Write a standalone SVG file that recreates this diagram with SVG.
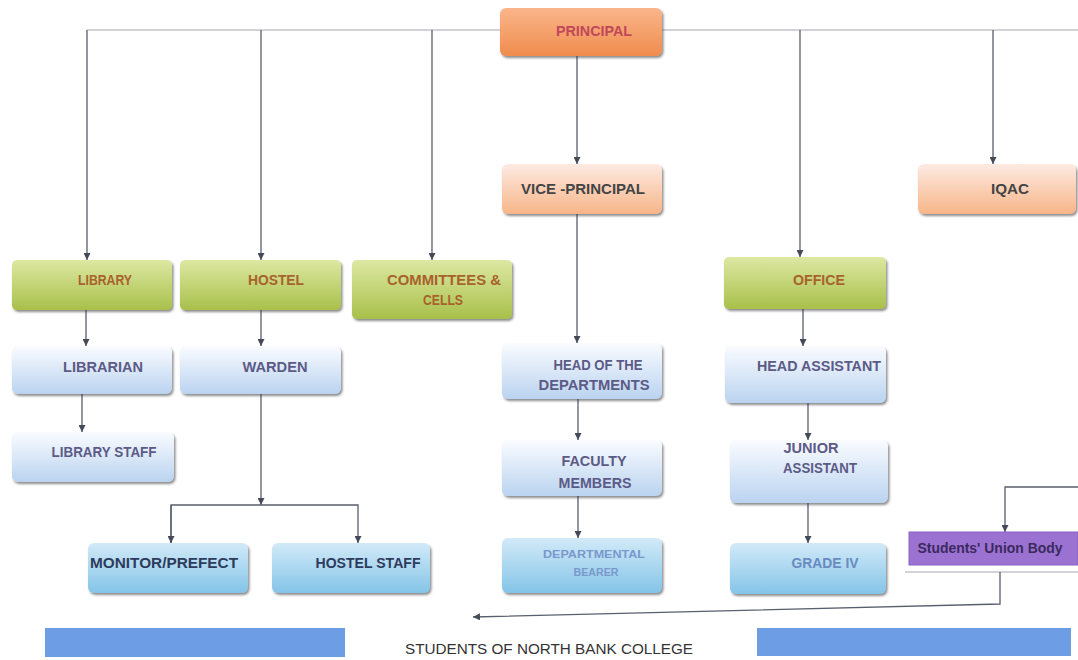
<svg xmlns="http://www.w3.org/2000/svg" width="1078" height="660" viewBox="0 0 1078 660">
<defs>
<style>
.lbl{font-family:"Liberation Sans",Arial,sans-serif;font-weight:bold;font-size:14px;text-anchor:middle}
.con{fill:none;stroke:#5a5f6e;stroke-width:1.3}
.top{fill:none;stroke:#a8a8b0;stroke-width:1.2}
.box{filter:url(#sh)}
</style>
<filter id="sh" x="-10%" y="-10%" width="125%" height="140%">
<feDropShadow dx="1.5" dy="2" stdDeviation="0.8" flood-color="#333" flood-opacity="0.55"/>
</filter>
<linearGradient id="gPr" x1="0" y1="0" x2="0" y2="1"><stop offset="0" stop-color="#fab58a"/><stop offset="1" stop-color="#f08c4e"/></linearGradient>
<linearGradient id="gPe" x1="0" y1="0" x2="0" y2="1"><stop offset="0" stop-color="#fdeae2"/><stop offset="1" stop-color="#f7b588"/></linearGradient>
<linearGradient id="gGr" x1="0" y1="0" x2="0" y2="1"><stop offset="0" stop-color="#dde8a2"/><stop offset="1" stop-color="#a8c04a"/></linearGradient>
<linearGradient id="gLb" x1="0" y1="0" x2="0" y2="1"><stop offset="0" stop-color="#fafcff"/><stop offset="1" stop-color="#bad3f0"/></linearGradient>
<linearGradient id="gCy" x1="0" y1="0" x2="0" y2="1"><stop offset="0" stop-color="#d2eaf8"/><stop offset="1" stop-color="#84c4e8"/></linearGradient>
<marker id="ar" viewBox="0 0 8 8" refX="8" refY="4" markerWidth="7" markerHeight="7" markerUnits="userSpaceOnUse" orient="auto"><path d="M0,0 L8,4 L0,8 z" fill="#454a58"/></marker>
</defs>
<rect width="1078" height="660" fill="#ffffff"/>

<g id="connectors">
<path class="top" d="M87,30 H1078"/>
<path class="con" d="M87,30 V260" marker-end="url(#ar)"/>
<path class="con" d="M261,30 V260" marker-end="url(#ar)"/>
<path class="con" d="M432,30 V260" marker-end="url(#ar)"/>
<path class="con" d="M800,30 V257" marker-end="url(#ar)"/>
<path class="con" d="M993,30 V164" marker-end="url(#ar)"/>
<path class="con" d="M577,56 V164" marker-end="url(#ar)"/>
<path class="con" d="M577,214 V343" marker-end="url(#ar)"/>
<path class="con" d="M86,310 V346" marker-end="url(#ar)"/>
<path class="con" d="M82,394 V432" marker-end="url(#ar)"/>
<path class="con" d="M261,310 V346" marker-end="url(#ar)"/>
<path class="con" d="M261,394 V505" marker-end="url(#ar)"/>
<path class="con" d="M171,543 V505 H358 V543" marker-end="url(#ar)"/>
<path class="con" d="M171,505 V543" marker-end="url(#ar)"/>
<path class="con" d="M803,309 V346" marker-end="url(#ar)"/>
<path class="con" d="M808,403 V440" marker-end="url(#ar)"/>
<path class="con" d="M808,503 V543" marker-end="url(#ar)"/>
<path class="con" d="M578,399 V440" marker-end="url(#ar)"/>
<path class="con" d="M578,496 V538" marker-end="url(#ar)"/>
<path class="con" d="M1078,487 H1005 V532" marker-end="url(#ar)"/>
<path class="top" d="M905,572 H1078"/>
<path class="con" d="M1000,572 V604 L473,617" marker-end="url(#ar)"/>
</g>

<g id="principal"><rect class="box" x="500" y="8" width="162" height="48" rx="6" fill="url(#gPr)"/><text class="lbl" x="594" y="36" fill="#c0485a" textLength="76" lengthAdjust="spacingAndGlyphs">PRINCIPAL</text></g>
<g id="vice-principal"><rect class="box" x="502" y="164" width="160" height="50" rx="6" fill="url(#gPe)"/><text class="lbl" x="583" y="194" fill="#444" textLength="124" lengthAdjust="spacingAndGlyphs">VICE -PRINCIPAL</text></g>
<g id="iqac"><rect class="box" x="918" y="164" width="158" height="50" rx="6" fill="url(#gPe)"/><text class="lbl" x="1010" y="194" fill="#444" textLength="38" lengthAdjust="spacingAndGlyphs">IQAC</text></g>

<g id="library"><rect class="box" x="12" y="260" width="160" height="50" rx="5" fill="url(#gGr)"/><text class="lbl" x="105" y="285" fill="#a8622c" textLength="54" lengthAdjust="spacingAndGlyphs">LIBRARY</text></g>
<g id="hostel"><rect class="box" x="180" y="260" width="161" height="50" rx="5" fill="url(#gGr)"/><text class="lbl" x="276" y="285" fill="#a8622c" textLength="56" lengthAdjust="spacingAndGlyphs">HOSTEL</text></g>
<g id="committees"><rect class="box" x="352" y="260" width="160" height="59" rx="5" fill="url(#gGr)"/><text class="lbl" x="444" y="285" fill="#a8622c" textLength="114" lengthAdjust="spacingAndGlyphs">COMMITTEES &amp;</text><text class="lbl" x="443" y="305" fill="#a8622c" textLength="40" lengthAdjust="spacingAndGlyphs">CELLS</text></g>
<g id="office"><rect class="box" x="724" y="257" width="162" height="52" rx="5" fill="url(#gGr)"/><text class="lbl" x="819" y="285" fill="#a8622c" textLength="52" lengthAdjust="spacingAndGlyphs">OFFICE</text></g>

<g id="librarian"><rect class="box" x="12" y="346" width="160" height="48" rx="6" fill="url(#gLb)"/><text class="lbl" x="103" y="372" fill="#5c5a86" textLength="80" lengthAdjust="spacingAndGlyphs">LIBRARIAN</text></g>
<g id="warden"><rect class="box" x="180" y="346" width="161" height="48" rx="6" fill="url(#gLb)"/><text class="lbl" x="275" y="372" fill="#5c5a86" textLength="65" lengthAdjust="spacingAndGlyphs">WARDEN</text></g>
<g id="hod"><rect class="box" x="502" y="343" width="160" height="56" rx="6" fill="url(#gLb)"/><text class="lbl" x="598" y="370" fill="#5c5a86" textLength="89" lengthAdjust="spacingAndGlyphs">HEAD OF THE</text><text class="lbl" x="594" y="390" fill="#5c5a86" textLength="111" lengthAdjust="spacingAndGlyphs">DEPARTMENTS</text></g>
<g id="head-assistant"><rect class="box" x="725" y="346" width="161" height="57" rx="6" fill="url(#gLb)"/><text class="lbl" x="819" y="371" fill="#5c5a86" textLength="124" lengthAdjust="spacingAndGlyphs">HEAD ASSISTANT</text></g>

<g id="library-staff"><rect class="box" x="12" y="432" width="162" height="50" rx="6" fill="url(#gLb)"/><text class="lbl" x="104" y="457" fill="#5c5a86" textLength="105" lengthAdjust="spacingAndGlyphs">LIBRARY STAFF</text></g>
<g id="faculty"><rect class="box" x="502" y="440" width="160" height="56" rx="6" fill="url(#gLb)"/><text class="lbl" x="594" y="466" fill="#5c5a86" textLength="65" lengthAdjust="spacingAndGlyphs">FACULTY</text><text class="lbl" x="595" y="488" fill="#5c5a86" textLength="73" lengthAdjust="spacingAndGlyphs">MEMBERS</text></g>
<g id="junior-assistant"><rect class="box" x="730" y="440" width="158" height="63" rx="6" fill="url(#gLb)"/><text class="lbl" x="811" y="453" fill="#5c5a86" textLength="55" lengthAdjust="spacingAndGlyphs">JUNIOR</text><text class="lbl" x="820" y="473" fill="#5c5a86" textLength="74" lengthAdjust="spacingAndGlyphs">ASSISTANT</text></g>

<g id="monitor"><rect class="box" x="88" y="543" width="160" height="50" rx="6" fill="url(#gCy)"/><text class="lbl" x="164" y="568" fill="#2e3b5c" textLength="148" lengthAdjust="spacingAndGlyphs">MONITOR/PREFECT</text></g>
<g id="hostel-staff"><rect class="box" x="272" y="543" width="158" height="50" rx="6" fill="url(#gCy)"/><text class="lbl" x="368" y="568" fill="#2e3b5c" textLength="105" lengthAdjust="spacingAndGlyphs">HOSTEL STAFF</text></g>
<g id="departmental-bearer"><rect class="box" x="502" y="538" width="160" height="55" rx="6" fill="url(#gCy)"/><text class="lbl" x="594" y="558" fill="#7a98cc" style="font-size:10.5px" textLength="102" lengthAdjust="spacingAndGlyphs">DEPARTMENTAL</text><text class="lbl" x="596" y="576" fill="#7a98cc" style="font-size:10.5px" textLength="45" lengthAdjust="spacingAndGlyphs">BEARER</text></g>
<g id="grade-iv"><rect class="box" x="730" y="543" width="156" height="51" rx="6" fill="url(#gCy)"/><text class="lbl" x="825" y="568" fill="#6a8ac0" textLength="67" lengthAdjust="spacingAndGlyphs">GRADE IV</text></g>

<g id="students-union"><rect x="909" y="532" width="169" height="33" fill="#9b72d2" stroke="#8860c2" stroke-width="1"/><text class="lbl" x="990" y="553" fill="#3b2a5e" textLength="145" lengthAdjust="spacingAndGlyphs">Students' Union Body</text></g>

<g id="students"><rect x="45" y="628" width="300" height="29" fill="#6d9de4"/><rect x="757" y="628" width="314" height="28" fill="#6d9de4"/><text x="549" y="654" font-family="'Liberation Sans',Arial,sans-serif" font-size="14" fill="#333" text-anchor="middle" textLength="288" lengthAdjust="spacingAndGlyphs">STUDENTS OF NORTH BANK COLLEGE</text></g>
</svg>
